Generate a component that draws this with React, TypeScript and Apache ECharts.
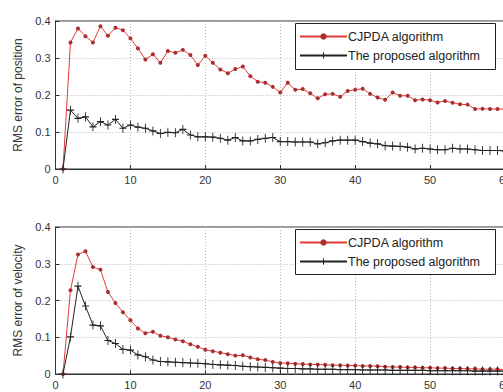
import React, { useEffect, useRef } from "react";
import * as echarts from "echarts";

const xTicks = [0, 10, 20, 30, 40, 50, 60];
const legendNames = ["CJPDA algorithm", "The proposed algorithm"];
const yNames = ["RMS error of position", "RMS error of velocity"];

const posCJPDA = [
  0, 0.342, 0.38, 0.359, 0.342, 0.386, 0.36, 0.382, 0.375, 0.353,
  0.326, 0.296, 0.31, 0.287, 0.319, 0.314, 0.322, 0.308, 0.281, 0.306,
  0.287, 0.269, 0.259, 0.27, 0.277, 0.251, 0.236, 0.233, 0.222, 0.207,
  0.233, 0.214, 0.216, 0.205, 0.191, 0.202, 0.203, 0.195, 0.211, 0.214,
  0.217, 0.203, 0.193, 0.187, 0.207, 0.198, 0.198, 0.186, 0.188, 0.186,
  0.18, 0.184, 0.179, 0.175, 0.174, 0.162, 0.163, 0.162, 0.162, 0.162,
];
const posProposed = [
  0, 0.159, 0.137, 0.141, 0.114, 0.128, 0.119, 0.134, 0.11, 0.119,
  0.113, 0.11, 0.103, 0.096, 0.099, 0.098, 0.107, 0.092, 0.087, 0.087,
  0.086, 0.083, 0.078, 0.085, 0.076, 0.076, 0.08, 0.083, 0.085, 0.074,
  0.074, 0.073, 0.073, 0.073, 0.068, 0.071, 0.076, 0.078, 0.078, 0.078,
  0.074, 0.07, 0.068, 0.063, 0.062, 0.061, 0.059, 0.054, 0.056, 0.054,
  0.052, 0.052, 0.056, 0.054, 0.054, 0.052, 0.05, 0.05, 0.05, 0.049,
];
const velCJPDA = [
  0, 0.228, 0.325, 0.334, 0.291, 0.284, 0.223, 0.193, 0.168, 0.146,
  0.124, 0.111, 0.115, 0.104, 0.1, 0.094, 0.089, 0.081, 0.074, 0.066,
  0.062, 0.058, 0.054, 0.05, 0.051, 0.045, 0.04, 0.038, 0.033, 0.03,
  0.029, 0.028, 0.027, 0.026, 0.026, 0.025, 0.024, 0.024, 0.023, 0.023,
  0.022, 0.022, 0.021, 0.02, 0.019, 0.019, 0.018, 0.018, 0.017, 0.017,
  0.016, 0.016, 0.015, 0.015, 0.014, 0.014, 0.013, 0.013, 0.013, 0.012,
];
const velProposed = [
  0, 0.101, 0.239, 0.185, 0.133, 0.131, 0.091, 0.083, 0.067, 0.065,
  0.052, 0.047, 0.038, 0.034, 0.033, 0.032, 0.031, 0.03, 0.029, 0.028,
  0.026, 0.025, 0.024, 0.023, 0.021, 0.02, 0.019, 0.018, 0.017, 0.016,
  0.015, 0.015, 0.014, 0.014, 0.013, 0.013, 0.013, 0.012, 0.012, 0.012,
  0.011, 0.011, 0.011, 0.011, 0.01, 0.01, 0.01, 0.01, 0.01, 0.009,
  0.009, 0.009, 0.009, 0.009, 0.009, 0.008, 0.008, 0.008, 0.008, 0.008,
];

const FONT = "'Liberation Sans', Arial, sans-serif";
const PLUS = "path://M5,0L5,10M0,5L10,5";

export default function App() {
  const ref = useRef<HTMLDivElement>(null);
  useEffect(() => {
    if (!ref.current) return;
    const chart = echarts.init(ref.current, undefined, { renderer: "svg" });
    const pairs = (arr: number[]) => arr.map((v, i) => [i + 1, v]);
    const grids = [
      { left: 55.5, right: -2, top: 21, height: 148 },
      { left: 55.5, right: -2, top: 227, height: 147 },
    ];
    const xAxes = grids.map((_, i) => ({
      type: "value",
      gridIndex: i,
      min: xTicks[0],
      max: xTicks[xTicks.length - 1],
      interval: 10,
      axisLine: { show: true, onZero: false, lineStyle: { color: "#333" } },
      axisTick: { show: true, inside: true, length: 4, lineStyle: { color: "#333" } },
      axisLabel: { color: "#333", fontSize: 11, fontFamily: FONT, margin: 5, hideOverlap: false },
      splitLine: { show: true, lineStyle: { color: "#b8b8b8", type: [1, 2] } },
    }));
    const yAxes = grids.map((_, i) => ({
      type: "value",
      gridIndex: i,
      min: 0,
      max: 0.4,
      interval: 0.1,
      name: yNames[i],
      nameLocation: "middle",
      nameGap: 30,
      nameTextStyle: { color: "#333", fontSize: 12, fontFamily: FONT },
      axisLine: { show: true, lineStyle: { color: "#333" } },
      axisTick: { show: true, inside: true, length: 4, lineStyle: { color: "#333" } },
      axisLabel: {
        color: "#333",
        fontSize: 11,
        fontFamily: FONT,
        margin: 5,
        formatter: (v: number) => (v === 0 ? "0" : String(Math.round(v * 10) / 10)),
      },
      splitLine: { show: true, lineStyle: { color: "#b8b8b8", type: [1, 2] } },
    }));
    const mkRed = (arr: number[], i: number) => ({
      type: "line",
      name: legendNames[0],
      xAxisIndex: i,
      yAxisIndex: i,
      data: pairs(arr),
      symbol: "circle",
      symbolSize: 4,
      showSymbol: true,
      lineStyle: { color: "#e23a3a", width: 1 },
      itemStyle: { color: "#a83030", borderWidth: 0 },
      z: 3,
    });
    const mkBlack = (arr: number[], i: number) => ({
      type: "line",
      name: legendNames[1],
      xAxisIndex: i,
      yAxisIndex: i,
      data: pairs(arr),
      symbol: PLUS,
      symbolSize: [7, 9],
      showSymbol: true,
      lineStyle: { color: "#222", width: 1 },
      itemStyle: { color: "#222", borderColor: "#222", borderWidth: 1 },
      z: 3,
    });
    const legendBoxes = [
      { x: 295, y: 23, w: 200, h: 46 },
      { x: 295, y: 229, w: 200, h: 45 },
    ];
    chart.setOption({
      animation: false,
      backgroundColor: "#fff",
      grid: grids.map((g) => ({
        ...g,
        show: true,
        borderColor: "#333",
        borderWidth: 1,
        backgroundColor: "transparent",
        containLabel: false,
        outerBoundsMode: "none",
      })),
      xAxis: xAxes,
      yAxis: yAxes,
      legend: legendBoxes.map((b) => ({
        orient: "vertical",
        left: b.x + 4,
        top: b.y + 7,
        itemWidth: 47,
        itemHeight: 8,
        itemGap: 6,
        padding: 0,
        data: [
          { name: legendNames[0] },
          {
            name: legendNames[1],
            itemStyle: { color: "#222", borderColor: "#222", borderWidth: 1 },
          },
        ],
        textStyle: { color: "#222", fontSize: 12.5, fontFamily: FONT, padding: [0, 0, 0, -4] },
        z: 11,
      })),
      graphic: legendBoxes.map((b) => ({
        type: "rect",
        shape: { x: b.x + 0.5, y: b.y + 0.5, width: b.w, height: b.h },
        style: { fill: "#fff", stroke: "#222", lineWidth: 1 },
        z: 10,
      })),
      series: [mkRed(posCJPDA, 0), mkBlack(posProposed, 0), mkRed(velCJPDA, 1), mkBlack(velProposed, 1)],
    });
    return () => chart.dispose();
  }, []);
  return (
    <div
      ref={ref}
      style={{ position: "fixed", left: 0, top: 0, width: 503, height: 392, background: "#fff" }}
    />
  );
}
